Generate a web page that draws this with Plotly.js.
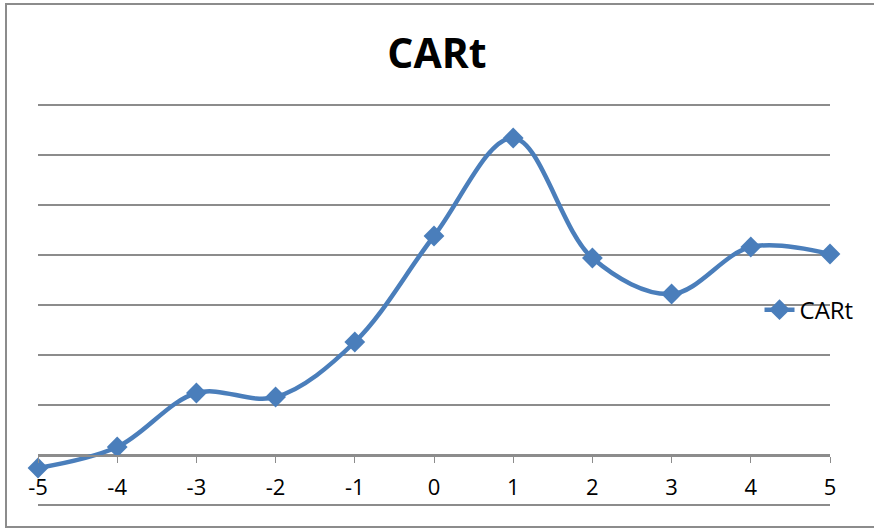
<!DOCTYPE html>
<html>
<head>
<meta charset="utf-8">
<script src="https://cdn.plot.ly/plotly-3.0.1.min.js"></script>
<style>
  html, body { margin: 0; padding: 0; background: #ffffff; }
  #wrap { position: relative; width: 874px; height: 532px; overflow: hidden; }
  #chart { position: absolute; left: 0; top: 0; width: 874px; height: 532px; }
  #frame { position: absolute; left: 5px; top: 3px; width: 880px; height: 525px;
           border: 2px solid #8c8c8c; box-sizing: border-box; pointer-events: none; }
</style>
</head>
<body>
<div id="wrap">
  <div id="chart"></div>
  <div id="frame"></div>
</div>
<script>
const seriesName = "CARt";
const eventDays = [-5, -4, -3, -2, -1, 0, 1, 2, 3, 4, 5];
const carValues = [-0.26, 0.16, 1.24, 1.16, 2.26, 4.38, 6.34, 3.94, 3.22, 4.16, 4.02];
const xTickLabels = ["-5", "-4", "-3", "-2", "-1", "0", "1", "2", "3", "4", "5"];
const gridValues = [-1, 0, 1, 2, 3, 4, 5, 6, 7];

const blue = "#4a7ebb";
const fontFam = "'Open Sans', 'Noto Sans', sans-serif";

const trace = {
  x: eventDays,
  y: carValues,
  name: seriesName,
  type: "scatter",
  mode: "lines+markers",
  cliponaxis: false,
  line: { color: blue, width: 4.5, shape: "spline", smoothing: 1 },
  marker: { symbol: "diamond", size: 16, color: blue }
};

const layout = {
  width: 874,
  height: 532,
  margin: { l: 38, r: 44, t: 103, b: 25 },
  paper_bgcolor: "#ffffff",
  plot_bgcolor: "#ffffff",
  title: {
    text: "<b>CARt</b>",
    font: { family: fontFam, size: 41, color: "#000000" },
    x: 0.5, xanchor: "center",
    y: 0.9, yanchor: "middle", yref: "container"
  },
  xaxis: {
    range: [-5, 5],
    tickvals: eventDays,
    ticktext: xTickLabels,
    anchor: "free",
    position: 52 / 404,
    showgrid: false,
    zeroline: false,
    showline: true,
    linecolor: "#8c8c8c",
    linewidth: 1.5,
    ticks: "outside",
    ticklen: 6,
    tickcolor: "#8c8c8c",
    ticklabelstandoff: 6,
    tickfont: { family: fontFam, size: 22, color: "#000000" }
  },
  yaxis: {
    range: [-1.04, 7.04],
    tickvals: gridValues,
    showticklabels: false,
    showgrid: true,
    gridcolor: "#8c8c8c",
    gridwidth: 1.5,
    zeroline: false,
    showline: false,
    ticks: ""
  },
  showlegend: true,
  legend: {
    x: 0.911, xanchor: "left",
    y: 0.4875, yanchor: "middle",
    font: { family: fontFam, size: 24, color: "#000000" },
    bgcolor: "rgba(0,0,0,0)",
    borderwidth: 0
  }
};

Plotly.newPlot("chart", [trace], layout, { displayModeBar: false, staticPlot: true });
</script>
</body>
</html>
